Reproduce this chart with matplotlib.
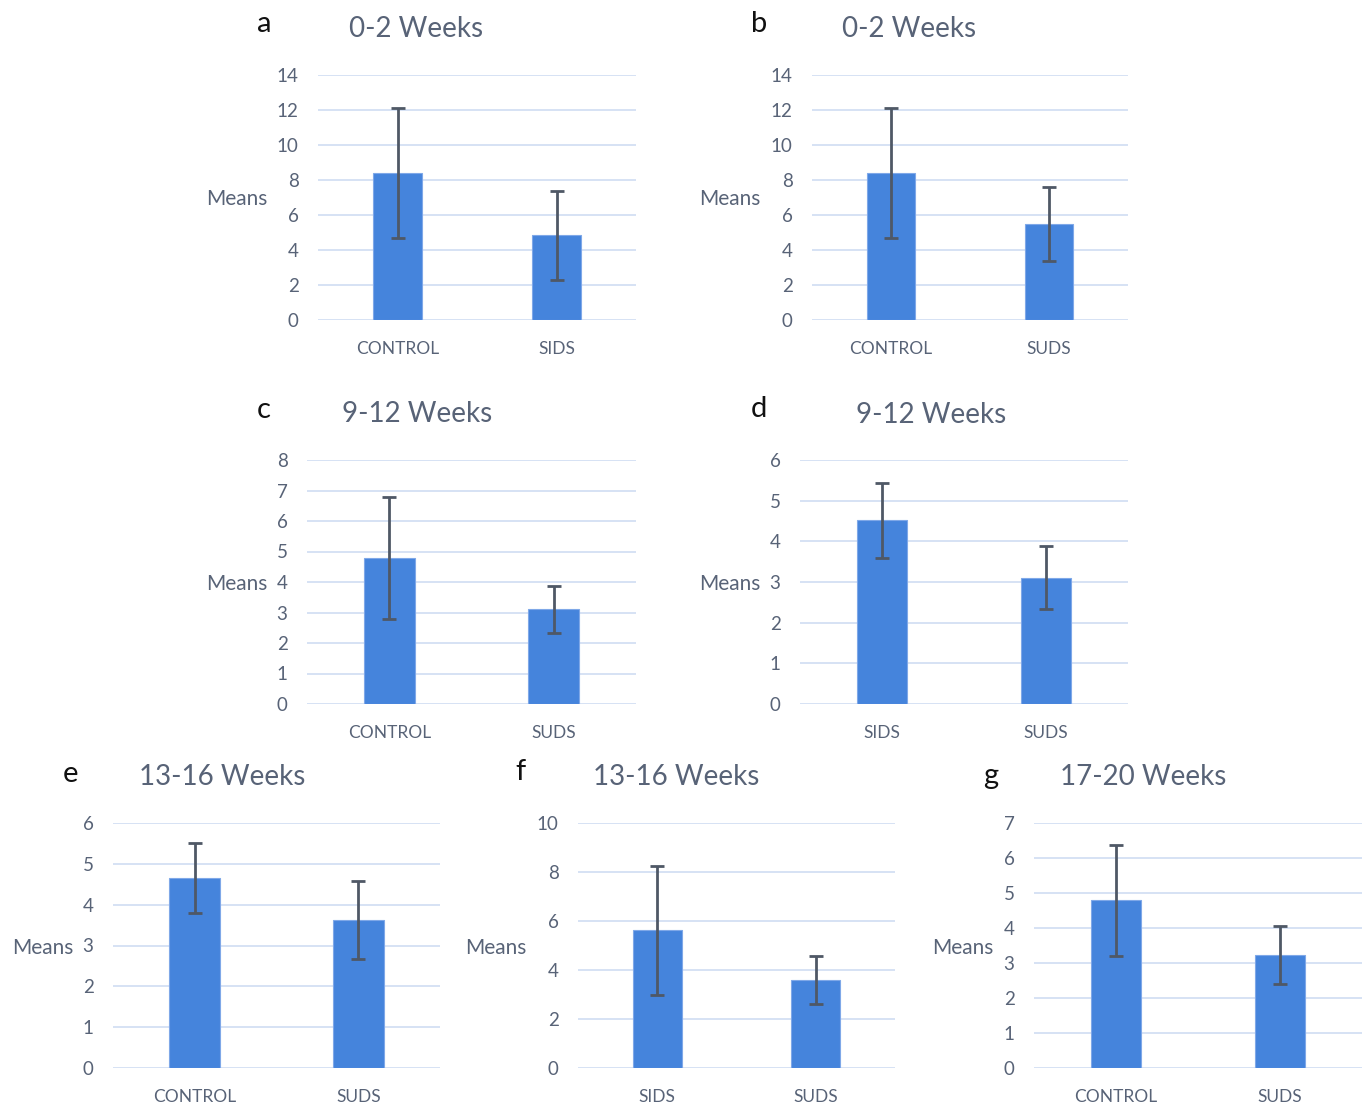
import numpy as np
import matplotlib
matplotlib.use("Agg")
import matplotlib.pyplot as plt

plt.rcParams['font.family'] = ['Lato', 'DejaVu Sans']

# panel data
letters = ['a', 'b', 'c', 'd', 'e', 'f', 'g']
titles = ['0-2 Weeks', '0-2 Weeks', '9-12 Weeks', '9-12 Weeks',
          '13-16 Weeks', '13-16 Weeks', '17-20 Weeks']
groups = [['CONTROL', 'SIDS'], ['CONTROL', 'SUDS'], ['CONTROL', 'SUDS'],
          ['SIDS', 'SUDS'], ['CONTROL', 'SUDS'], ['SIDS', 'SUDS'],
          ['CONTROL', 'SUDS']]
means = [[8.4, 4.85], [8.4, 5.5], [4.78, 3.1], [4.52, 3.11],
         [4.65, 3.63], [5.63, 3.6], [4.79, 3.22]]
errs = [[3.74, 2.55], [3.74, 2.1], [2.0, 0.78], [0.92, 0.77],
        [0.85, 0.96], [2.63, 0.97], [1.58, 0.83]]
ymax = [14, 14, 8, 6, 6, 10, 7]
ystep = [2, 2, 1, 1, 1, 2, 1]

# layout in pixels: axes box (left, right, top, bottom), letter, title, ylabel
W, H = 1366, 1106
boxes = [(318, 636, 75, 320), (812, 1128, 75, 320),
         (307, 636, 460, 704), (800, 1128, 460, 704),
         (113, 440, 823, 1068), (578, 895, 823, 1068),
         (1034, 1362, 823, 1068)]
letter_pos = [(264, 24), (759, 24), (264, 410), (759, 409),
              (70, 774), (520, 772), (991, 776)]
title_pos = [(416, 29), (909, 29), (417, 414), (931, 415),
             (222, 777), (676, 777), (1143, 777)]
ylab_pos = [(237, 199), (730, 199), (237, 584), (730, 584),
            (43, 948), (496, 948), (963, 948)]

bar_color = '#4584DC'
grid_color = '#CFDDF2'
text_color = '#586377'
err_color = '#4F5866'

fig = plt.figure(figsize=(W / 100, H / 100), dpi=100)

for i in range(7):
    l, r, t, b = boxes[i]
    ax = fig.add_axes([l / W, 1 - b / H, (r - l) / W, (b - t) / H])
    x = np.arange(2)
    ax.bar(x, means[i], width=0.31, color=bar_color, edgecolor='#7FA8E8',
           linewidth=0.8, zorder=3)
    ax.errorbar(x, means[i], yerr=errs[i], fmt='none', ecolor=err_color,
                elinewidth=2, capsize=5, capthick=2, zorder=4)
    ax.set_xlim(-0.5, 1.5)
    ax.set_ylim(0, ymax[i])
    ax.set_yticks(np.arange(0, ymax[i] + 0.1, ystep[i]))
    ax.set_xticks(x)
    ax.set_xticklabels(groups[i])
    ax.yaxis.grid(True, color=grid_color, linewidth=1.2, zorder=0)
    ax.set_axisbelow(True)
    for s in ax.spines.values():
        s.set_visible(False)
    ax.tick_params(axis='both', length=0, labelcolor=text_color, labelsize=13.5)
    ax.tick_params(axis='y', pad=14)
    ax.tick_params(axis='x', pad=15)
    for lab in ax.get_xticklabels():
        lab.set_fontsize(12.5)

    lx, ly = letter_pos[i]
    fig.text(lx / W, 1 - ly / H, letters[i], fontsize=21, color='#111111',
             ha='center', va='center')
    tx, ty = title_pos[i]
    fig.text(tx / W, 1 - ty / H, titles[i], fontsize=20, color=text_color,
             ha='center', va='center')
    yx, yy = ylab_pos[i]
    fig.text(yx / W, 1 - yy / H, 'Means', fontsize=15, color=text_color,
             ha='center', va='center')

fig.savefig('out.png', dpi=100, facecolor='white')
